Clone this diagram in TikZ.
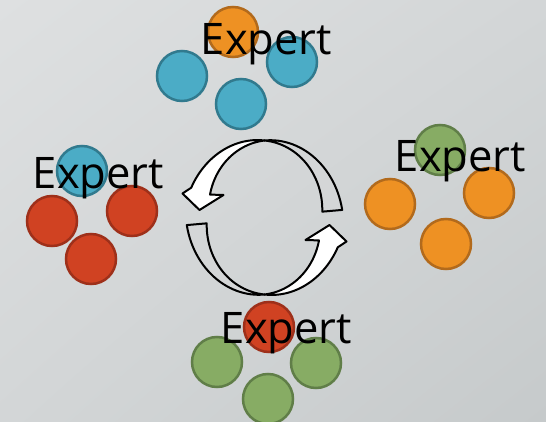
\documentclass[tikz,border=0pt]{standalone}
\usepackage{fontspec}
\setmainfont{Open Sans}
\usetikzlibrary{calc,shadings}

\definecolor{bglight}{RGB}{222,224,225}
\definecolor{bgmid}{RGB}{211,214,215}
\definecolor{bgdark}{RGB}{198,202,203}
\definecolor{bandgray}{RGB}{212,214,215}
\definecolor{dotblue}{RGB}{75,172,198}
\definecolor{rimblue}{RGB}{49,122,142}
\definecolor{dotorange}{RGB}{238,145,35}
\definecolor{rimorange}{RGB}{178,106,28}
\definecolor{dotred}{RGB}{208,66,34}
\definecolor{rimred}{RGB}{158,48,26}
\definecolor{dotgreen}{RGB}{135,172,100}
\definecolor{rimgreen}{RGB}{96,126,72}

\begin{document}
\begin{tikzpicture}[x=1pt,y=-1pt]
        \tikzstyle{member}=[circle,minimum size=50pt,inner sep=0pt,line width=2.5pt]
        \tikzstyle{expertname}=[anchor=base,inner sep=0pt,font=\fontsize{43.5}{50}\selectfont]
        \tikzstyle{ribbon}=[draw=black,line width=2pt,line join=round]

        \useasboundingbox (0,0) rectangle (546,422);
        \shade[upper left=bglight,upper right=bgmid,lower left=bgmid,lower right=bgdark] (0,0) rectangle (546,422);

        % the two halves of the cycle
        \foreach \rot in {0,180}
        {
            \begin{scope}[shift={(264.5,217.5)},rotate=\rot]
                \draw[ribbon,fill=bandgray]
                    plot[domain=5:90,samples=30] ({(68+10*(90-\x)/85)*cos(\x)},{-(77+10*(90-\x)/85)*sin(\x)})
                    -- plot[domain=90:5,samples=30] ({(68-10*(90-\x)/85)*cos(\x)},{-(77-10*(90-\x)/85)*sin(\x)})
                    -- cycle;
                \coordinate (barb-out) at (-82,-24);
                \coordinate (tip) at (-65,-7.5);
                \coordinate (barb-in) at (-41,-22.5);
                \draw[ribbon,fill=white]
                    plot[domain=90:160,samples=30] ({(68+10*(\x-90)/70)*cos(\x)},{-(77+10*(\x-90)/70)*sin(\x)})
                    -- (barb-out) -- (tip) -- (barb-in)
                    -- plot[domain=160:90,samples=30] ({(68-10*(\x-90)/70)*cos(\x)},{-(77-10*(\x-90)/70)*sin(\x)})
                    -- cycle;
            \end{scope}
        }

        % groups
        \foreach \id/\x/\y/\c in {T-1/233/32/orange, T-2/182/76/blue, T-3/292/62/blue, T-4/241/104/blue,
                                  L-1/82/171/blue, L-2/52/221/red, L-3/132/211/red, L-4/91/259/red,
                                  R-1/440/150/green, R-2/390/204/orange, R-3/489/193/orange, R-4/446/244/orange,
                                  B-1/269/327/red, B-2/217/362/green, B-3/316/363/green, B-4/268/399/green}
            \node[member,fill=dot\c,draw=rim\c] (\id) at (\x,\y) {};

        \node[expertname] (X-T) at (266.5,55) {Expert};
        \node[expertname] (X-L) at (98.5,189) {Expert};
        \node[expertname] (X-R) at (460.5,172) {Expert};
        \node[expertname] (X-B) at (286.5,343) {Expert};
\end{tikzpicture}
\end{document}
